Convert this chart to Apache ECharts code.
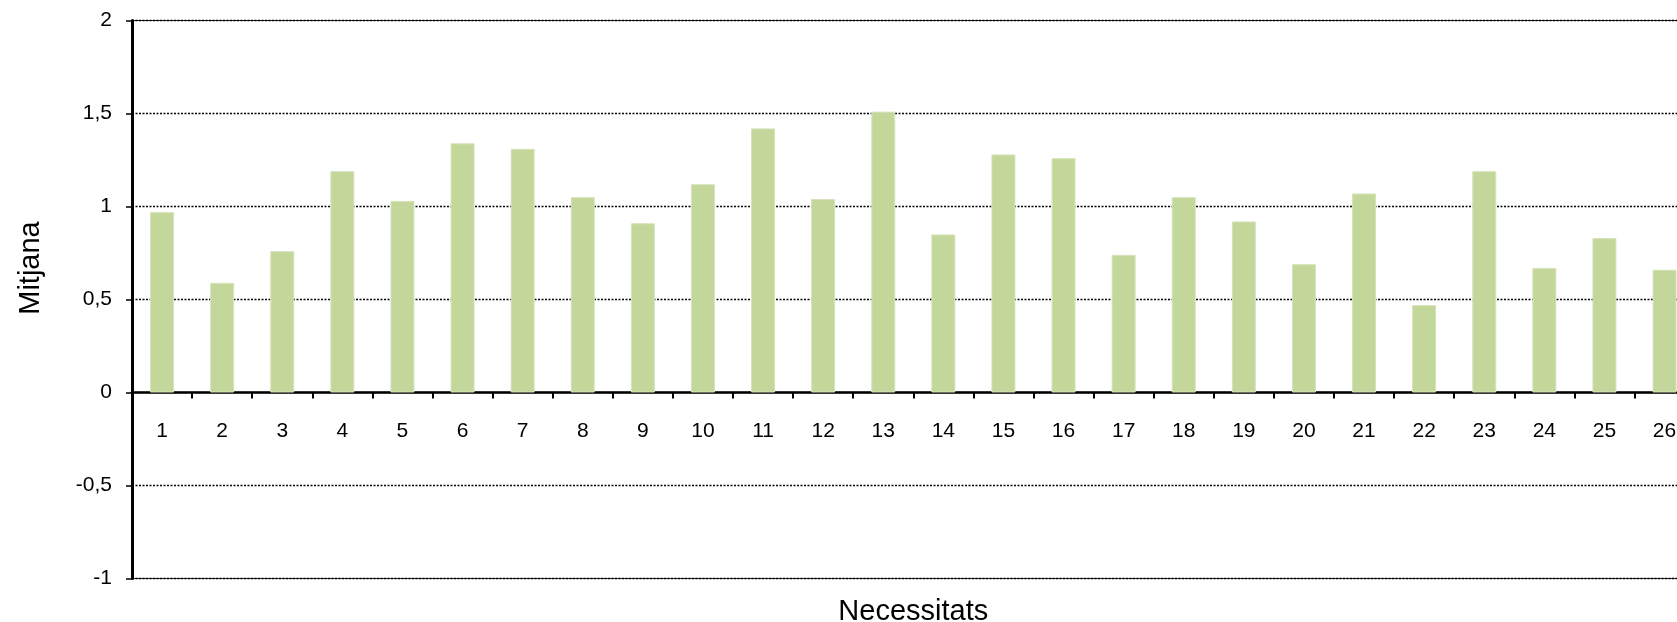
<!DOCTYPE html>
<html>
<head>
<meta charset="utf-8">
<script src="https://cdn.jsdelivr.net/npm/echarts@6/dist/echarts.min.js"></script>
<style>
html,body{margin:0;padding:0;background:#fff;}
#chart{width:1677px;height:622px;}
</style>
</head>
<body>
<div id="chart"></div>
<script>
const categories = ['1','2','3','4','5','6','7','8','9','10','11','12','13','14','15','16','17','18','19','20','21','22','23','24','25','26'];
const mitjana = [0.97,0.59,0.76,1.19,1.03,1.34,1.31,1.05,0.91,1.12,1.42,1.04,1.51,0.85,1.28,1.26,0.74,1.05,0.92,0.69,1.07,0.47,1.19,0.67,0.83,0.66];
const yTicks = {min: -1, max: 2, interval: 0.5};

const FONT = 'Arial, "Liberation Sans", sans-serif';
const GRID_H = 558;
// category axis sits on the zero line: shift it up from the grid bottom
const zeroOffset = -GRID_H * (0 - yTicks.min) / (yTicks.max - yTicks.min);

const chart = echarts.init(document.getElementById('chart'), null, {renderer: 'canvas'});
chart.setOption({
  animation: false,
  backgroundColor: '#ffffff',
  grid: {
    left: 132, top: 20.5, height: GRID_H, width: 60.1 * categories.length,
    show: true, borderColor: '#222', borderWidth: 1,
    containLabel: false, outerBoundsMode: 'none'
  },
  xAxis: [{
    type: 'category',
    data: categories,
    boundaryGap: true,
    position: 'bottom',
    offset: zeroOffset,
    axisLine: {show: true, onZero: false, lineStyle: {color: '#000', width: 2.5}},
    axisTick: {show: true, alignWithLabel: false, length: 6, lineStyle: {color: '#000', width: 2}},
    axisLabel: {fontFamily: FONT, fontSize: 21, color: '#000', margin: 28, interval: 0},
    splitLine: {show: false}
  }, {
    type: 'category',
    data: categories,
    position: 'bottom',
    name: 'Necessitats',
    nameLocation: 'middle',
    nameGap: 19,
    nameTextStyle: {fontFamily: FONT, fontSize: 29, color: '#000'},
    axisLine: {show: false, onZero: false},
    axisTick: {show: false},
    axisLabel: {show: false},
    splitLine: {show: false}
  }],
  yAxis: {
    type: 'value',
    min: yTicks.min, max: yTicks.max, interval: yTicks.interval,
    name: 'Mitjana',
    nameLocation: 'middle',
    nameGap: 87,
    nameRotate: 90,
    nameTextStyle: {fontFamily: FONT, fontSize: 29, color: '#000', padding: [0, 0, 0, 63]},
    axisLine: {show: true, lineStyle: {color: '#000', width: 3}},
    axisTick: {show: true, inside: false, length: 6, lineStyle: {color: '#000', width: 1.5}},
    axisLabel: {fontFamily: FONT, fontSize: 21, color: '#000', margin: 20,
      formatter: v => String(v).replace('.', ',')},
    splitLine: {show: true, lineStyle: {color: '#000', width: 1.3, type: [2, 1.5]}}
  },
  series: [{
    type: 'bar',
    xAxisIndex: 0,
    data: mitjana,
    barWidth: 24,
    itemStyle: {color: '#c4d79b', borderColor: '#d6e3bc', borderWidth: 1}
  }]
});
</script>
</body>
</html>
